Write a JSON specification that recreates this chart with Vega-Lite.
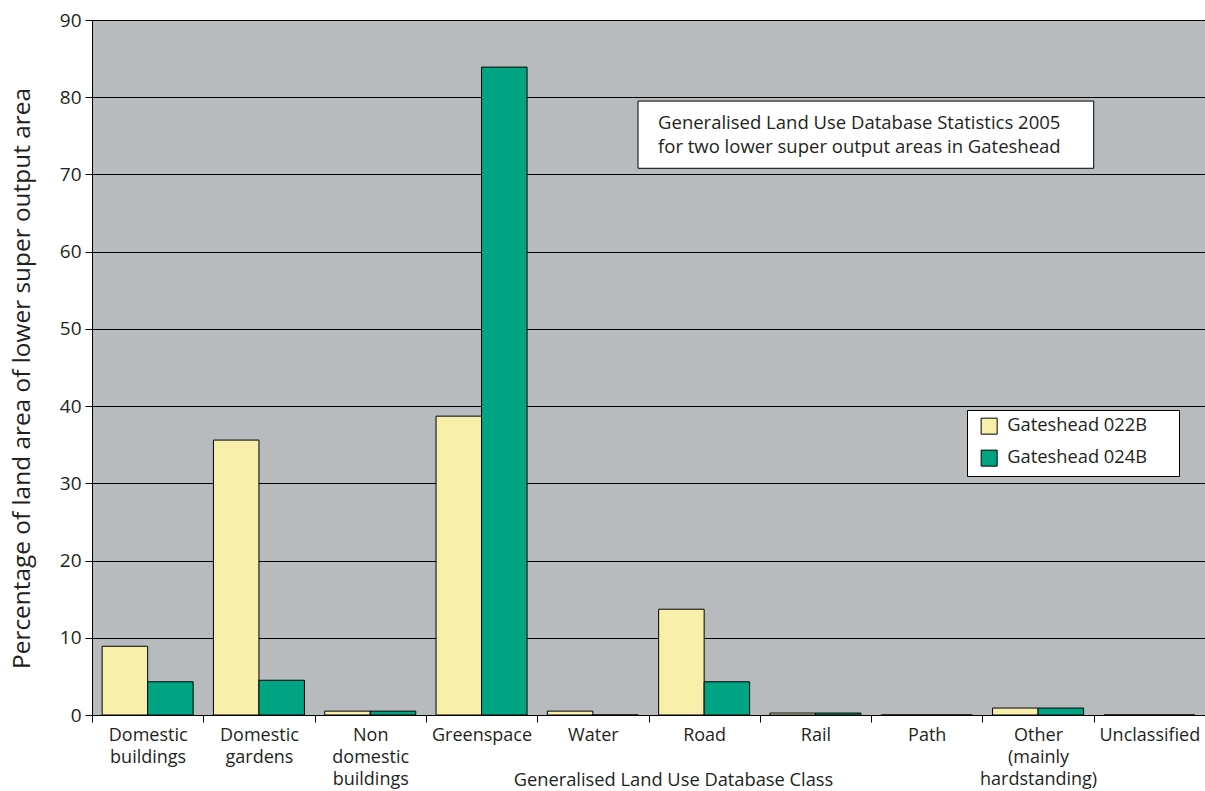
{
  "$schema": "https://vega.github.io/schema/vega-lite/v6.json",
  "width": 1113,
  "height": 695,
  "autosize": {"type": "none"},
  "padding": {"left": 92, "top": 20, "right": 0, "bottom": 76},
  "background": "white",
  "config": {
    "font": "Open Sans",
    "view": {"fill": "#B8BBBE", "stroke": null},
    "axis": {
      "domainColor": "black",
      "tickColor": "black",
      "gridColor": "black",
      "gridOpacity": 1,
      "labelColor": "#231F20",
      "titleColor": "#231F20",
      "titleFontWeight": "normal"
    }
  },
  "layer": [
    {
      "data": {
        "values": [
          {"class": "Domestic buildings", "area": "Gateshead 022B", "percent": 8.9},
          {"class": "Domestic buildings", "area": "Gateshead 024B", "percent": 4.3},
          {"class": "Domestic gardens", "area": "Gateshead 022B", "percent": 35.6},
          {"class": "Domestic gardens", "area": "Gateshead 024B", "percent": 4.5},
          {"class": "Non domestic buildings", "area": "Gateshead 022B", "percent": 0.5},
          {"class": "Non domestic buildings", "area": "Gateshead 024B", "percent": 0.5},
          {"class": "Greenspace", "area": "Gateshead 022B", "percent": 38.7},
          {"class": "Greenspace", "area": "Gateshead 024B", "percent": 83.9},
          {"class": "Water", "area": "Gateshead 022B", "percent": 0.5},
          {"class": "Water", "area": "Gateshead 024B", "percent": 0},
          {"class": "Road", "area": "Gateshead 022B", "percent": 13.7},
          {"class": "Road", "area": "Gateshead 024B", "percent": 4.3},
          {"class": "Rail", "area": "Gateshead 022B", "percent": 0.25},
          {"class": "Rail", "area": "Gateshead 024B", "percent": 0.25},
          {"class": "Path", "area": "Gateshead 022B", "percent": 0},
          {"class": "Path", "area": "Gateshead 024B", "percent": 0},
          {"class": "Other (mainly hardstanding)", "area": "Gateshead 022B", "percent": 0.9},
          {"class": "Other (mainly hardstanding)", "area": "Gateshead 024B", "percent": 0.9},
          {"class": "Unclassified", "area": "Gateshead 022B", "percent": 0},
          {"class": "Unclassified", "area": "Gateshead 024B", "percent": 0}
        ]
      },
      "mark": {"type": "bar", "stroke": "black", "strokeWidth": 1},
      "encoding": {
        "x": {
          "field": "class",
          "type": "nominal",
          "scale": {
            "domain": ["Domestic buildings", "Domestic gardens", "Non domestic buildings", "Greenspace", "Water", "Road", "Rail", "Path", "Other (mainly hardstanding)", "Unclassified"],
            "paddingInner": 0,
            "paddingOuter": 0
          },
          "axis": {
            "title": "Generalised Land Use Database Class",
            "titleFontSize": 18.3,
            "titleX": 581,
            "titleY": 70,
            "titleBaseline": "alphabetic",
            "labelExpr": "split(datum.label, ' ')",
            "labelAngle": 0,
            "labelFontSize": 18,
            "labelLineHeight": 22,
            "labelBaseline": "top",
            "labelPadding": 4,
            "labelLimit": 200,
            "tickBand": "extent",
            "tickSize": 7,
            "grid": false
          }
        },
        "xOffset": {
          "field": "area",
          "type": "nominal",
          "scale": {"paddingInner": 0, "paddingOuter": 0.223}
        },
        "y": {
          "field": "percent",
          "type": "quantitative",
          "scale": {"domain": [0, 90], "nice": false},
          "axis": {
            "title": "Percentage of land area of lower super output area",
            "titleFontSize": 24.4,
            "titlePadding": 25,
            "titleY": 358,
            "values": [0, 10, 20, 30, 40, 50, 60, 70, 80, 90],
            "labelFontSize": 19,
            "labelPadding": 4,
            "tickSize": 7,
            "grid": true
          }
        },
        "color": {
          "field": "area",
          "type": "nominal",
          "scale": {"domain": ["Gateshead 022B", "Gateshead 024B"], "range": ["#F8EFAB", "#00A482"]},
          "legend": {
            "title": ".",
            "titleOrient": "right",
            "titleOpacity": 0,
            "titleFontSize": 8,
            "titlePadding": 22,
            "orient": "none",
            "legendX": 875,
            "legendY": 390,
            "fillColor": "white",
            "strokeColor": "black",
            "padding": 7,
            "symbolOffset": 6,
            "symbolType": "square",
            "symbolSize": 256,
            "symbolStrokeColor": "black",
            "symbolStrokeWidth": 1,
            "symbolOpacity": 1,
            "labelFontSize": 18.3,
            "labelColor": "#231F20",
            "labelOffset": 9,
            "rowPadding": 11
          }
        }
      }
    },
    {
      "data": {"values": [{"class": "Water", "class2": "Unclassified", "top": 79.5, "bottom": 70.8}]},
      "mark": {"type": "rect", "fill": "white", "stroke": "black", "strokeWidth": 1},
      "encoding": {
        "x": {"field": "class", "type": "nominal", "bandPosition": 0.906},
        "x2": {"field": "class2", "bandPosition": 0},
        "y": {"field": "top", "type": "quantitative"},
        "y2": {"field": "bottom"}
      }
    },
    {
      "data": {
        "values": [
          {"class": "Water", "line": "Generalised Land Use Database Statistics 2005", "pos": 76.7},
          {"class": "Water", "line": "for two lower super output areas in Gateshead", "pos": 73.6}
        ]
      },
      "mark": {"type": "text", "align": "left", "baseline": "middle", "dx": 20, "fontSize": 18.5, "color": "#231F20"},
      "encoding": {
        "x": {"field": "class", "type": "nominal", "bandPosition": 0.906},
        "y": {"field": "pos", "type": "quantitative"},
        "text": {"field": "line"}
      }
    }
  ]
}
